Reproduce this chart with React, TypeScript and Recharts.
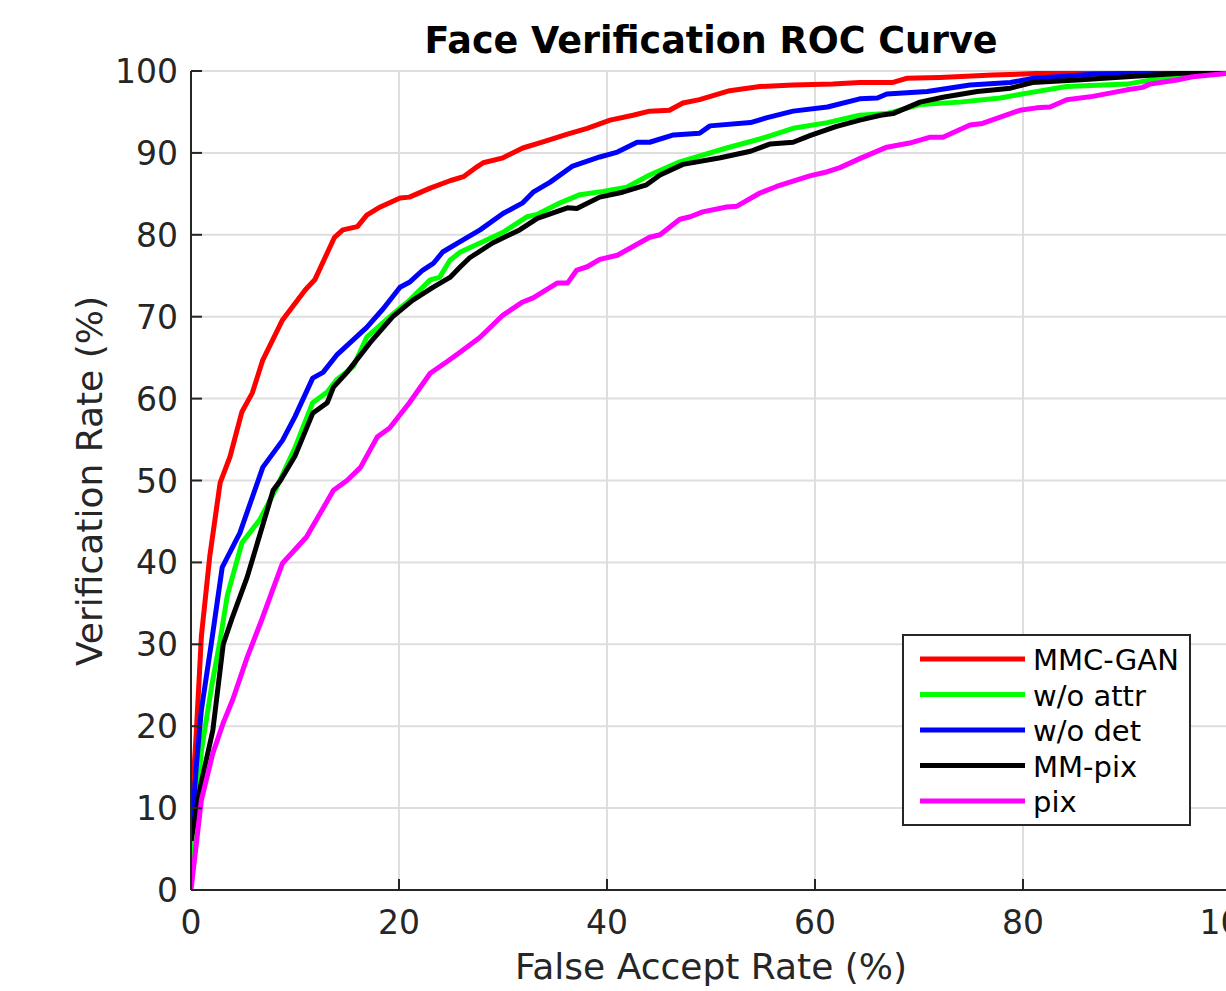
import React from 'react';
import { LineChart, Line, XAxis, YAxis, CartesianGrid } from 'recharts';

const seriesNames = ['MMC-GAN', 'w/o attr', 'w/o det', 'MM-pix', 'pix'];
const seriesColors = ['#ff0000', '#00ff00', '#0000ff', '#000000', '#ff00ff'];
const xTicks = [0, 20, 40, 60, 80, 100];
const yTicks = [0, 10, 20, 30, 40, 50, 60, 70, 80, 90, 100];

const mmcGanFar = [0, 0.5, 1, 1.8, 2.8, 3.75, 4.9, 5.9, 6.9, 8.8, 11, 11.9, 13.8, 14.6, 16, 16.9, 18.2, 20.1, 21, 23, 24.9, 26.2, 27.5, 28.1, 30, 31.9, 34, 36.2, 38.1, 40.3, 42.5, 44.1, 46, 47.3, 48.9, 51.8, 54.7, 57.9, 61.7, 64.3, 67.5, 68.8, 72, 77.1, 83.5, 90, 100];
const mmcGanVr = [9, 19, 31, 40.7, 49.7, 52.9, 58.4, 60.7, 64.7, 69.6, 73.3, 74.5, 79.7, 80.6, 81, 82.4, 83.4, 84.5, 84.6, 85.7, 86.6, 87.1, 88.3, 88.8, 89.4, 90.6, 91.4, 92.3, 93, 94, 94.6, 95.1, 95.2, 96.1, 96.5, 97.6, 98.1, 98.3, 98.4, 98.6, 98.6, 99.1, 99.2, 99.5, 99.8, 99.9, 100];

const woAttrFar = [0, 0.5, 1, 2, 2.8, 3.5, 4.9, 6.6, 8.1, 10, 11.7, 13.1, 14, 15.6, 16.9, 19.4, 21, 23, 23.9, 24.9, 25.9, 27.8, 30, 32.3, 33.3, 35.5, 37.4, 39.6, 41.9, 44.1, 47, 51.5, 54.7, 57.9, 61.2, 64.3, 66.9, 70.1, 73.9, 77.8, 80.4, 84.2, 90, 93.2, 100];
const woAttrVr = [2.2, 10, 17, 25, 30.5, 36, 42.4, 45.2, 48.8, 54, 59.5, 60.8, 62.3, 63.9, 67.5, 70.3, 72, 74.5, 74.8, 76.9, 77.9, 79, 80.3, 82.2, 82.5, 83.9, 84.9, 85.3, 85.8, 87.3, 88.9, 90.6, 91.7, 93, 93.7, 94.6, 94.8, 95.9, 96.2, 96.7, 97.3, 98.1, 98.4, 99.1, 100];

const woDetFar = [0, 0.5, 1, 2, 3, 4.7, 6.9, 8.8, 10, 11.7, 12.7, 14, 16.9, 18.5, 20.1, 21, 22.3, 23.3, 24.2, 26.2, 27.8, 30, 31.9, 32.9, 34.5, 36.7, 39.3, 41, 42.9, 44.1, 46.4, 48.9, 49.9, 53.8, 55.4, 57.9, 61.2, 64.3, 66, 66.9, 70.8, 74.9, 78.8, 80.9, 86.7, 100];
const woDetVr = [6, 15, 22, 30.5, 39.4, 43.6, 51.6, 54.9, 57.8, 62.5, 63.2, 65.3, 68.7, 71, 73.6, 74.2, 75.7, 76.5, 77.9, 79.4, 80.6, 82.6, 83.9, 85.2, 86.4, 88.4, 89.5, 90.1, 91.3, 91.3, 92.2, 92.4, 93.3, 93.7, 94.3, 95.1, 95.6, 96.6, 96.7, 97.2, 97.5, 98.3, 98.6, 99.1, 99.6, 100];

const mmPixFar = [0, 0.9, 2.1, 3.1, 3.9, 5.4, 7.9, 8.6, 10, 11.7, 13.1, 13.7, 15, 17.2, 19.4, 21.3, 23.3, 24.9, 25.9, 26.8, 29, 31.6, 33.3, 36.2, 37.1, 39.3, 41.5, 43.8, 45.1, 47.3, 50.9, 53.8, 55.7, 57.9, 59.5, 62, 64.3, 66.3, 67.5, 70.1, 72.3, 75.6, 78.8, 80.9, 85.2, 90, 94.8, 100];
const mmPixVr = [6, 12.6, 19.5, 30, 33, 38.2, 48.8, 50, 53, 58.2, 59.5, 61.4, 63.2, 66.8, 70, 72, 73.6, 74.8, 76.1, 77.2, 79, 80.6, 82, 83.3, 83.2, 84.6, 85.2, 86.1, 87.3, 88.6, 89.4, 90.2, 91.1, 91.3, 92.1, 93.2, 94, 94.6, 94.8, 96.2, 96.8, 97.5, 97.9, 98.6, 98.9, 99.3, 99.7, 100];

const pixFar = [0, 1, 2.1, 3.1, 4, 5.4, 6.8, 8.8, 11.1, 13.7, 15, 16.3, 17.9, 19.1, 21, 23, 24.6, 25.9, 27.8, 30, 31.9, 32.9, 35.2, 36.2, 37.1, 38.1, 39.3, 41, 44.1, 45.1, 47, 48, 49.2, 51.5, 52.5, 54.7, 56.3, 59.5, 61.2, 62.4, 64.3, 66.9, 69.1, 71, 72.3, 74.9, 76.1, 79.7, 81.3, 82.6, 84.2, 86.7, 90, 91.5, 92.2, 94.8, 96.3, 99.5, 100];
const pixVr = [0, 11, 16.7, 20.4, 23.2, 28.4, 33, 39.9, 43.1, 48.8, 50, 51.6, 55.3, 56.4, 59.5, 63.1, 64.5, 65.7, 67.5, 70.2, 71.8, 72.3, 74.1, 74.1, 75.7, 76.1, 77, 77.5, 79.7, 80, 81.9, 82.2, 82.8, 83.4, 83.5, 85.1, 85.9, 87.2, 87.7, 88.2, 89.3, 90.7, 91.2, 91.9, 91.9, 93.4, 93.6, 95.2, 95.5, 95.6, 96.5, 96.9, 97.7, 98, 98.4, 98.9, 99.3, 99.7, 100];

const toPoints = (xs: number[], ys: number[]) => xs.map((x, i) => ({ x, y: ys[i] }));
const seriesData = [
  toPoints(mmcGanFar, mmcGanVr),
  toPoints(woAttrFar, woAttrVr),
  toPoints(woDetFar, woDetVr),
  toPoints(mmPixFar, mmPixVr),
  toPoints(pixFar, pixVr),
];

const FONT = '"DejaVu Sans", "Liberation Sans", sans-serif';
const AX = '#262626';
const TICK_LEN = 11;

const BottomTick = (props: any) => {
  const { x, y, payload } = props;
  return (
    <g>
      <line x1={x} x2={x} y1={y} y2={y - TICK_LEN} stroke={AX} strokeWidth={2} />
      <text x={x} y={y + 44} textAnchor="middle" fontFamily={FONT} fontSize={33} fill={AX}>{payload.value}</text>
    </g>
  );
};
const TopTick = (props: any) => {
  const { x, y } = props;
  return <line x1={x} x2={x} y1={y} y2={y + TICK_LEN} stroke={AX} strokeWidth={2} />;
};
const LeftTick = (props: any) => {
  const { x, y, payload } = props;
  return (
    <g>
      <line x1={x} x2={x + TICK_LEN} y1={y} y2={y} stroke={AX} strokeWidth={2} />
      <text x={x - 13} y={y + 12} textAnchor="end" fontFamily={FONT} fontSize={33} fill={AX}>{payload.value}</text>
    </g>
  );
};
const RightTick = (props: any) => {
  const { x, y } = props;
  return <line x1={x} x2={x - TICK_LEN} y1={y} y2={y} stroke={AX} strokeWidth={2} />;
};

export default function App() {
  return (
    <div style={{ position: 'fixed', left: 0, top: 0, width: 1226, height: 991, overflow: 'hidden', background: '#fff' }}>
      <LineChart width={1300} height={991} margin={{ top: 71, right: 69, bottom: 0, left: 0 }}>
        <CartesianGrid stroke="#dedede" strokeWidth={2} />
        <XAxis dataKey="x" type="number" domain={[0, 100]} ticks={xTicks} interval={0} height={101}
          tickSize={0} tickMargin={0} tick={<BottomTick />} axisLine={{ stroke: AX, strokeWidth: 2 }} tickLine={false} allowDataOverflow />
        <XAxis xAxisId="top" orientation="top" dataKey="x" type="number" domain={[0, 100]} ticks={xTicks} interval={0} height={0}
          tickSize={0} tickMargin={0} tick={<TopTick />} axisLine={{ stroke: AX, strokeWidth: 2 }} tickLine={false} allowDataOverflow />
        <YAxis type="number" domain={[0, 100]} ticks={yTicks} interval={0} width={191}
          tickSize={0} tickMargin={0} tick={<LeftTick />} axisLine={{ stroke: AX, strokeWidth: 2 }} tickLine={false} allowDataOverflow />
        <YAxis yAxisId="right" orientation="right" type="number" domain={[0, 100]} ticks={yTicks} interval={0} width={0}
          tickSize={0} tickMargin={0} tick={<RightTick />} axisLine={{ stroke: AX, strokeWidth: 2 }} tickLine={false} allowDataOverflow />
        {seriesData.map((d, i) => (
          <Line key={seriesNames[i]} data={d} dataKey="y" name={seriesNames[i]} stroke={seriesColors[i]} strokeWidth={5}
            dot={false} isAnimationActive={false} type="linear" strokeLinejoin="round" />
        ))}
      </LineChart>
      <svg width={1226} height={991} style={{ position: 'absolute', left: 0, top: 0, pointerEvents: 'none' }}>
        <text x={711} y={53} textAnchor="middle" fontFamily={FONT} fontSize={36.5} fontWeight="bold" fill="#000">Face Verification ROC Curve</text>
        <text x={711} y={979} textAnchor="middle" fontFamily={FONT} fontSize={36} fill={AX}>False Accept Rate (%)</text>
        <text x={102} y={481} transform="rotate(-90 102 481)" textAnchor="middle" fontFamily={FONT} fontSize={36} fill={AX}>Verification Rate (%)</text>
        <g>
          <rect x={903} y={635} width={287} height={190} fill="#fff" stroke={AX} strokeWidth={2} />
          {seriesNames.map((n, i) => {
            const cy = 659 + i * 35.5;
            return (
              <g key={n}>
                <line x1={920} x2={1025} y1={cy} y2={cy} stroke={seriesColors[i]} strokeWidth={5} />
                <text x={1033} y={cy + 11} fontFamily={FONT} fontSize={29} fill="#000">{n}</text>
              </g>
            );
          })}
        </g>
      </svg>
    </div>
  );
}
